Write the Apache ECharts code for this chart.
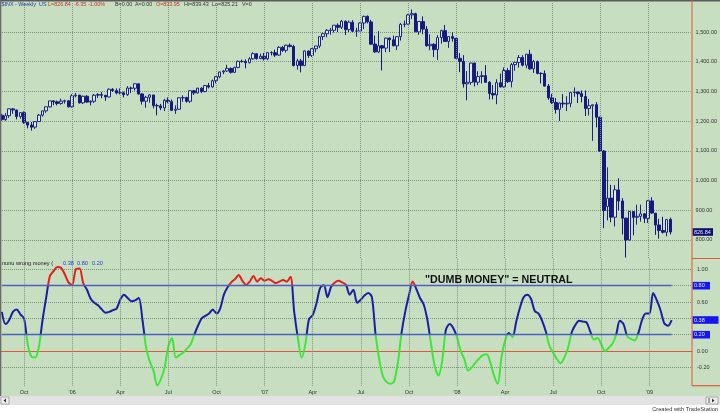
<!DOCTYPE html>
<html><head><meta charset="utf-8">
<script src="https://cdn.jsdelivr.net/npm/echarts@6/dist/echarts.min.js"></script>
<style>html,body{margin:0;padding:0;background:#fff}#c{width:720px;height:413px}</style>
</head><body><div id="c"></div><script>
// ---- data ----
const tickDates = ['2005-10-07','2006-01-06','2006-04-07','2006-07-07','2006-10-06','2007-01-05','2007-04-06','2007-07-06','2007-10-05','2008-01-04','2008-04-04','2008-07-04','2008-10-03','2009-01-02'];
const tickLabels = ['Oct',"'06",'Apr','Jul','Oct',"'07",'Apr','Jul','Oct',"'08",'Apr','Jul','Oct',"'09"];
const priceTicks = [800,900,1000,1100,1200,1300,1400,1500];
const indLabelValues = [1.0,0.6,0.0,-0.2];
const indGridValues = [1.0,0.8,0.6,0.4,0.2,0.0,-0.2];
const upperLevel = 0.8;
const lowerLevel = 0.2;

const opens = [1219.7,1205.2,1218.3,1241.2,1237.5,1215.6,1228.6,1195.8,1186.9,1179.9,
1198.6,1220.2,1234.5,1248.1,1268.2,1265.0,1259.6,1267.1,1268.5,1248.3,
1285.4,1287.6,1261.6,1283.5,1264.1,1266.8,1287.3,1289.1,1287.0,1281.5,
1307.2,1302.7,1294.9,1295.2,1289.3,1311.0,1310.7,1325.6,1291.4,1267.2,
1280.1,1288.0,1252.5,1251.2,1244.6,1270.0,1265.6,1236.4,1240.1,1278.4,
1279.2,1266.8,1302.1,1295.3,1310.8,1299.6,1319.5,1315.0,1335.8,1349.4,
1365.5,1368.8,1377.1,1364.4,1380.7,1401.0,1400.8,1396.9,1409.6,1427.0,
1410.9,1418.0,1409.9,1430.6,1430.3,1422.4,1448.2,1438.3,1455.3,1451.0,
1387.4,1402.6,1386.8,1436.0,1421.1,1443.6,1452.8,1484.6,1494.0,1505.4,
1505.7,1522.6,1515.9,1536.1,1507.9,1532.7,1502.8,1503.2,1530.2,1552.6,
1533.9,1459.2,1432.9,1453.8,1445.7,1479.6,1473.8,1453.4,1484.5,1525.6,
1526.6,1557.8,1561.6,1500.4,1535.1,1509.5,1453.9,1458.5,1440.9,1481.3,
1504.5,1468.2,1484.3,1478.6,1411.4,1401.2,1325.4,1330.4,1395.6,1331.1,
1350.2,1353.0,1330.8,1293.2,1288.3,1329.3,1315.4,1370.2,1333.0,1390.1,
1397.6,1414.1,1388.1,1425.2,1376.1,1400.2,1360.9,1359.8,1318.1,1278.6,
1262.7,1239.7,1260.5,1257.9,1260.1,1296.5,1298.0,1292.4,1282.6,1242.5,
1251.5,1255.3,1213.1,1099.4,912.8,941.0,876.6,968.5,931.2,873.5,
800.2,895.8,876.3,879.5,888.0,872.6,931.5,890.2,850.3,831.8,
826.0,869.0];
const highs = [1225,1227,1243,1243,1238,1229.6,1233,1197,1197,1200,
1224,1235,1249.6,1268.4,1268.8,1269,1275.8,1272,1270,1290.8,
1294.9,1288,1286,1287.9,1270,1291,1294,1297.6,1288,1310,
1311,1310,1310,1300,1318,1316,1326.7,1326.7,1294,1285,
1290.7,1288,1258.6,1257.9,1275,1280,1273,1253,1280,1287,
1282,1303,1305,1312,1314,1322,1328.5,1340,1352,1366,
1372,1389.5,1381,1383,1403.8,1407,1407.9,1415,1431.8,1427.7,
1427,1429.4,1431.6,1435.3,1440.7,1452,1453,1457.6,1461.6,1456.9,
1410,1409,1438,1437.8,1445,1453,1484.7,1498,1510,1513.8,
1522.8,1529,1540.6,1539,1538.7,1540,1514,1532.4,1555,1556,
1541,1488,1503,1456,1481,1481.5,1488,1486,1530,1538.7,
1561,1576.1,1564.7,1535.5,1552.8,1520,1492,1462,1488.9,1508,
1523.6,1485.4,1498.9,1479,1429,1422,1368.6,1396,1396,1368,
1367.9,1388.3,1335,1321.7,1341,1359.7,1380.9,1378.5,1395.9,1400,
1422.7,1422,1425.8,1440.2,1406,1404,1364,1370.6,1325,1292,
1278,1262.3,1291,1284,1297.9,1313.2,1298.6,1303,1303,1274.4,
1255.2,1264,1215,1102,1044.3,985.4,984.4,1007.5,941,875,
896.3,896.3,918.9,918.9,889,934.7,943.9,890.4,871,877.9,
870.7,875];
const lows = [1201.5,1201,1211,1225,1205.8,1208,1191,1175.4,1168,1174,
1198,1215,1228,1246,1254,1253,1255,1259,1246,1245.7,
1280,1259,1258,1262,1253,1261,1278,1277,1268,1280,
1298,1290,1290,1280,1285,1295,1303,1290,1256,1245,
1262,1243,1219.3,1237,1234,1260,1235,1224.5,1238,1265,
1262,1261,1288,1293,1294,1297,1310,1313,1327,1344,
1358,1366,1360,1362,1378,1397,1377.8,1394,1407,1407,
1408,1403.9,1405,1421,1416,1420,1433,1431,1448,1384,
1373.5,1364,1386,1413,1416,1432,1446,1473,1482,1491,
1498,1500,1510,1490,1500,1500,1484,1503,1510,1529,
1458,1430,1429,1370.6,1432,1432.5,1452,1439,1471,1516,
1525,1544,1500.3,1490.6,1492.5,1450.3,1438.5,1415.6,1406.1,1460.6,
1467.8,1446.6,1467.9,1411,1364.7,1313,1270,1322.4,1316.8,1321,
1326.5,1330,1272.7,1273,1257,1312.8,1312.7,1328.4,1313.7,1369.6,
1380,1384,1378,1373,1362.2,1357.7,1326.7,1317,1272,1257.7,
1225.4,1200.4,1245,1234,1247,1282,1261,1263.2,1217.2,1219,
1133.5,1179,1097,839.8,865.8,859.6,845.3,899.7,818.7,741.0,
798,815.7,851.4,861.6,857,857,888.3,817,804.3,821.7,
812.3,818.5];
const closes = [1205.1,1218.0,1241.5,1237.9,1215.3,1228.8,1195.9,1186.6,1179.6,1198.4,
1220.1,1234.7,1248.3,1268.0,1265.1,1259.4,1267.3,1268.7,1248.3,1285.5,
1287.6,1261.5,1283.7,1264.0,1267.0,1287.2,1289.4,1287.2,1281.4,1307.3,
1302.9,1294.8,1295.5,1289.1,1311.3,1310.6,1325.8,1291.2,1267.0,1280.2,
1288.2,1252.3,1251.5,1244.5,1270.2,1265.5,1236.2,1240.3,1278.6,1279.4,
1266.7,1302.3,1295.1,1311.0,1299.5,1319.7,1314.8,1335.9,1349.6,1365.6,
1368.6,1377.3,1364.3,1380.9,1401.2,1400.9,1396.7,1409.8,1427.1,1410.8,
1418.3,1409.7,1430.7,1430.5,1422.2,1448.4,1438.1,1455.5,1451.2,1387.2,
1402.8,1387.0,1436.1,1420.9,1443.8,1452.9,1484.4,1494.1,1505.6,1505.9,
1522.8,1515.7,1536.3,1507.7,1532.9,1502.6,1503.4,1530.4,1552.5,1534.1,
1459.0,1433.1,1453.6,1445.9,1479.4,1474.0,1453.6,1484.3,1525.8,1526.8,
1557.6,1561.8,1500.6,1535.3,1509.7,1453.7,1458.7,1440.7,1481.1,1504.7,
1468.0,1484.5,1478.5,1411.6,1401.0,1325.2,1330.6,1395.4,1331.3,1350.0,
1353.1,1330.6,1293.4,1288.1,1329.5,1315.2,1370.4,1332.8,1390.3,1397.8,
1413.9,1388.3,1425.4,1375.9,1400.4,1360.7,1360.0,1317.9,1278.4,1262.9,
1239.5,1260.7,1257.8,1260.3,1296.3,1298.2,1292.2,1282.8,1242.3,1251.7,
1255.1,1213.3,1099.2,899.2,940.6,876.8,968.8,931.0,873.3,800.0,
896.2,876.1,879.7,887.9,872.8,931.8,890.4,850.1,832.0,825.9,
868.6,826.84];
const indicator = [0.48,0.33,0.38,0.48,0.51,0.45,0.40,0.08,-0.07,-0.08,
0.05,0.38,0.66,0.92,0.98,1.03,1.02,0.94,0.84,0.81,
1.00,1.01,0.83,0.75,0.64,0.59,0.56,0.51,0.47,0.48,
0.50,0.52,0.63,0.69,0.65,0.61,0.62,0.65,0.38,0.04,
-0.13,-0.24,-0.42,-0.34,-0.20,0.06,0.16,-0.08,-0.05,-0.02,
0.03,0.08,0.20,0.31,0.40,0.43,0.46,0.51,0.46,0.52,
0.69,0.78,0.84,0.88,0.93,0.86,0.81,0.85,0.92,0.85,
0.89,0.86,0.88,0.86,0.83,0.85,0.87,0.85,0.91,0.48,
0.16,-0.08,0.08,0.39,0.44,0.58,0.77,0.81,0.66,0.79,
0.84,0.86,0.84,0.81,0.69,0.75,0.59,0.63,0.68,0.71,
0.66,0.20,-0.11,-0.31,-0.38,-0.40,-0.37,-0.15,0.22,0.48,
0.68,0.85,0.76,0.65,0.57,0.38,0.08,-0.19,-0.30,-0.12,
0.26,0.33,0.28,0.17,0.00,-0.10,-0.24,-0.20,-0.14,-0.09,
-0.05,-0.04,-0.14,-0.30,-0.40,-0.08,0.13,0.22,0.17,0.36,
0.53,0.66,0.69,0.64,0.49,0.46,0.37,0.24,0.06,-0.02,
-0.10,-0.15,-0.08,0.04,0.23,0.32,0.37,0.36,0.35,0.24,
0.14,0.16,0.08,0.00,0.04,0.09,0.20,0.37,0.33,0.18,
0.15,0.13,0.22,0.38,0.46,0.46,0.71,0.62,0.50,0.34,
0.31,0.38];

// weekly categories (Fridays), with some empty weeks at the right
const dates = [];
(function(){ let t = Date.UTC(2005,7,26); for (let i=0;i<187;i++){ dates.push(new Date(t).toISOString().slice(0,10)); t += 7*86400000; } })();

const candles = opens.map((o,i)=>[o, closes[i], lows[i], highs[i]]);

const FONT = '"Liberation Sans", Arial, sans-serif';
const GRID_C = '#7f927f';
const RED = '#e0583a';
function fmtPrice(v){ const s = v.toFixed(2); const p = s.split('.'); return p[0].replace(/\B(?=(\d{3})+(?!\d))/g, ',') + '.' + p[1]; }

const chart = echarts.init(document.getElementById('c'), null, {renderer:'canvas'});
const vLines = tickDates.map(d=>({xAxis:d, lineStyle:{type:'dotted', color:GRID_C, width:1}}));
const lastIdx = indicator.length - 1;

const option = {
  animation: false,
  backgroundColor: '#c7dec1',
  grid: [
    {left: 0, top: 3, width: 692, height: 255},
    {left: 0, top: 258, width: 692, height: 127.7}
  ],
  xAxis: [
    {type:'category', gridIndex:0, data: dates, boundaryGap: true, show: false},
    {type:'category', gridIndex:1, data: dates, boundaryGap: true,
     axisLine:{show:true, lineStyle:{color:RED, width:1.2}},
     axisTick:{show:false}, splitLine:{show:false},
     axisLabel:{interval:(i,v)=>tickDates.indexOf(v)>=0,
       formatter:(v)=>{const k=tickDates.indexOf(v); return k>=0?tickLabels[k]:'';},
       fontSize:5.5, color:'#333', margin:4, fontFamily:FONT}}
  ],
  yAxis: [
    {type:'value', gridIndex:0, position:'right', min:739.3, max:1597.6,
     axisLine:{show:false}, axisTick:{show:false, customValues: priceTicks},
     axisLabel:{customValues: priceTicks, formatter: fmtPrice, fontSize:5.5, color:'#333', margin:5, fontFamily:FONT},
     splitLine:{show:true, lineStyle:{type:'dotted', color:GRID_C, width:1}}},
    {type:'value', gridIndex:1, position:'right', min:-0.424, max:1.139,
     axisLine:{show:false}, axisTick:{show:false, customValues: indGridValues},
     axisLabel:{customValues: indLabelValues, formatter:(v)=>v.toFixed(2), fontSize:5.5, color:'#333', margin:5, fontFamily:FONT},
     splitLine:{show:true, lineStyle:{type:'dotted', color:GRID_C, width:1}}}
  ],
  visualMap: {type:'piecewise', show:false, seriesIndex:1, dimension:1,
    pieces:[{lt:lowerLevel, color:'#3ee63a'},{gte:lowerLevel, lte:upperLevel, color:'#1a1ea4'},{gt:upperLevel, color:'#e4201c'}]},
  series: [
    {type:'candlestick', xAxisIndex:0, yAxisIndex:0, data:candles, barWidth:3,
     itemStyle:{color:'#e4ebe4', color0:'#161a7e', borderColor:'#1d2386', borderColor0:'#161a7e', borderWidth:1},
     markLine:{silent:true, symbol:'none', label:{show:false}, data:vLines}},
    {type:'line', xAxisIndex:1, yAxisIndex:1, data:indicator, symbol:'none', smooth:0.3, lineStyle:{width:2}, z:4,
     markLine:{silent:true, symbol:'none', label:{show:false}, data: vLines.concat([
       [{coord:[dates[0], upperLevel], lineStyle:{type:'solid', color:'#4d5fc4', width:1.4}},{coord:[dates[lastIdx], upperLevel]}],
       [{coord:[dates[0], lowerLevel], lineStyle:{type:'solid', color:'#4d5fc4', width:1.4}},{coord:[dates[lastIdx], lowerLevel]}]
     ])}}
  ]
};
chart.setOption(option);

const yP = (ax, v) => chart.convertToPixel({yAxisIndex: ax}, v);
const g = [];
function txt(x, y, s, fill, size, opts){ g.push({type:'text', x:x, y:y, z:50, style:{text:s, fill:fill, font:(opts&&opts.bold?'bold ':'')+size+'px '+FONT, align:(opts&&opts.align)||'left', verticalAlign:'middle'}}); }
function rect(x,y,w,h,fill,stroke){ g.push({type:'rect', z:40, shape:{x:x,y:y,width:w,height:h}, style:{fill:fill, stroke:stroke||null, lineWidth:stroke?0.8:0}}); }
function line(x1,y1,x2,y2,c,w){ g.push({type:'line', z:45, shape:{x1:x1,y1:y1,x2:x2,y2:y2}, style:{stroke:c, lineWidth:w||1}}); }

// frame
rect(0, 396, 720, 9, '#e2e2e2');
rect(0, 405, 720, 8, '#ffffff');
rect(1, 397, 8, 7, '#eeeeee', '#9a9a9a');
g.push({type:'polygon', z:46, shape:{points:[[6,398.5],[6,402.5],[3.5,400.5]]}, style:{fill:'#333'}});
rect(706, 397, 12, 7, '#eeeeee', '#9a9a9a');
line(709, 398, 709, 403, '#555', 1);
g.push({type:'polygon', z:46, shape:{points:[[712,398.5],[712,402.5],[714.5,400.5]]}, style:{fill:'#333'}});
txt(718, 409, 'Created with TradeStation', '#333', 5.7, {align:'right'});
rect(0, 0, 720, 1.5, '#5a5a5a');
rect(0, 0, 1.3, 396, '#6a6a6a');
line(692, 0, 692, 385.7, RED, 1);
line(692, 258.5, 720, 258.5, RED, 1);
line(692, 385.7, 720, 385.7, RED, 1.2);

// header
const blueT = '#2a36a0', redT = '#cc2a2a', darkT = '#333';
const HS = 5.4;
txt(1.5, 5, '$INX - Weekly', blueT, HS);
txt(39, 5, 'US', blueT, HS);
txt(48, 5, 'L=826.84', redT, HS);
txt(74, 5, '-6.35', redT, HS);
txt(88, 5, '-1.00%', redT, HS);
txt(115, 5, 'B=0.00', darkT, HS);
txt(135, 5, 'A=0.00', darkT, HS);
txt(156, 5, 'O=833.95', redT, HS);
txt(184, 5, 'Hi=839.43', darkT, HS);
txt(212, 5, 'Lo=825.21', darkT, HS);
txt(242, 5, 'V=0', darkT, HS);

// indicator legend
txt(2, 263.3, 'nunu wrong money (', '#1a1a1a', 5.6);
txt(63, 263.3, indicator[lastIdx].toFixed(2), '#2a3ad0', 5.6);
txt(77, 263.3, upperLevel.toFixed(2), '#2a3ad0', 5.6);
txt(92, 263.3, lowerLevel.toFixed(2), '#2a3ad0', 5.6);

// annotation
txt(425, 280.5, '"DUMB MONEY" = NEUTRAL', '#111', 10.7, {bold:true});

// value boxes on the right axis
const pc = yP(0, closes[closes.length-1]);
rect(692.5, pc-3.8, 20.5, 7.6, '#101070');
txt(694, pc, closes[closes.length-1].toFixed(2), '#e6ebff', 5.5);
[[upperLevel,17.5],[indicator[lastIdx],26],[lowerLevel,17.5]].forEach(([v,w])=>{
  const y = yP(1, v);
  rect(692.5, y-3.8, w, 7.6, '#1616f0');
  txt(694, y, v.toFixed(2), '#e8ecff', 5.5);
});

chart.setOption({graphic: g});
</script></body></html>
